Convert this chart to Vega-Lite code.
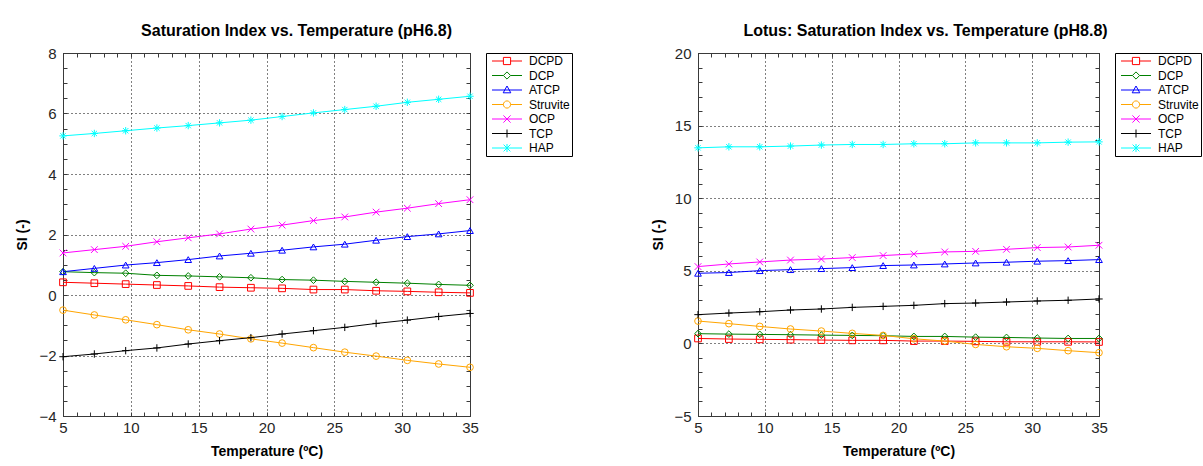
{
"$schema": "https://vega.github.io/schema/vega-lite/v6.json",
"background": "white",
"padding": {"left": 15, "top": 22, "right": 0, "bottom": 0},
"bounds": "flush",
"spacing": 228,
"datasets": {
"a": [
{"s":"DCPD","T":5,"SI":0.42},{"s":"DCPD","T":7.31,"SI":0.39},{"s":"DCPD","T":9.62,"SI":0.36},{"s":"DCPD","T":11.92,"SI":0.33},{"s":"DCPD","T":14.23,"SI":0.30},{"s":"DCPD","T":16.54,"SI":0.26},{"s":"DCPD","T":18.85,"SI":0.24},{"s":"DCPD","T":21.15,"SI":0.22},{"s":"DCPD","T":23.46,"SI":0.18},{"s":"DCPD","T":25.77,"SI":0.18},{"s":"DCPD","T":28.08,"SI":0.14},{"s":"DCPD","T":30.38,"SI":0.12},{"s":"DCPD","T":32.69,"SI":0.09},{"s":"DCPD","T":35,"SI":0.07},
{"s":"DCP","T":5,"SI":0.77},{"s":"DCP","T":7.31,"SI":0.74},{"s":"DCP","T":9.62,"SI":0.72},{"s":"DCP","T":11.92,"SI":0.65},{"s":"DCP","T":14.23,"SI":0.63},{"s":"DCP","T":16.54,"SI":0.60},{"s":"DCP","T":18.85,"SI":0.57},{"s":"DCP","T":21.15,"SI":0.51},{"s":"DCP","T":23.46,"SI":0.49},{"s":"DCP","T":25.77,"SI":0.45},{"s":"DCP","T":28.08,"SI":0.42},{"s":"DCP","T":30.38,"SI":0.39},{"s":"DCP","T":32.69,"SI":0.35},{"s":"DCP","T":35,"SI":0.32},
{"s":"ATCP","T":5,"SI":0.77},{"s":"ATCP","T":7.31,"SI":0.88},{"s":"ATCP","T":9.62,"SI":0.99},{"s":"ATCP","T":11.92,"SI":1.07},{"s":"ATCP","T":14.23,"SI":1.17},{"s":"ATCP","T":16.54,"SI":1.29},{"s":"ATCP","T":18.85,"SI":1.38},{"s":"ATCP","T":21.15,"SI":1.48},{"s":"ATCP","T":23.46,"SI":1.59},{"s":"ATCP","T":25.77,"SI":1.68},{"s":"ATCP","T":28.08,"SI":1.81},{"s":"ATCP","T":30.38,"SI":1.93},{"s":"ATCP","T":32.69,"SI":2.02},{"s":"ATCP","T":35,"SI":2.13},
{"s":"Struvite","T":5,"SI":-0.50},{"s":"Struvite","T":7.31,"SI":-0.66},{"s":"Struvite","T":9.62,"SI":-0.82},{"s":"Struvite","T":11.92,"SI":-0.98},{"s":"Struvite","T":14.23,"SI":-1.15},{"s":"Struvite","T":16.54,"SI":-1.29},{"s":"Struvite","T":18.85,"SI":-1.45},{"s":"Struvite","T":21.15,"SI":-1.59},{"s":"Struvite","T":23.46,"SI":-1.74},{"s":"Struvite","T":25.77,"SI":-1.89},{"s":"Struvite","T":28.08,"SI":-2.02},{"s":"Struvite","T":30.38,"SI":-2.16},{"s":"Struvite","T":32.69,"SI":-2.28},{"s":"Struvite","T":35,"SI":-2.39},
{"s":"OCP","T":5,"SI":1.39},{"s":"OCP","T":7.31,"SI":1.50},{"s":"OCP","T":9.62,"SI":1.61},{"s":"OCP","T":11.92,"SI":1.76},{"s":"OCP","T":14.23,"SI":1.89},{"s":"OCP","T":16.54,"SI":2.02},{"s":"OCP","T":18.85,"SI":2.18},{"s":"OCP","T":21.15,"SI":2.31},{"s":"OCP","T":23.46,"SI":2.46},{"s":"OCP","T":25.77,"SI":2.58},{"s":"OCP","T":28.08,"SI":2.74},{"s":"OCP","T":30.38,"SI":2.87},{"s":"OCP","T":32.69,"SI":3.02},{"s":"OCP","T":35,"SI":3.15},
{"s":"TCP","T":5,"SI":-2.04},{"s":"TCP","T":7.31,"SI":-1.95},{"s":"TCP","T":9.62,"SI":-1.84},{"s":"TCP","T":11.92,"SI":-1.75},{"s":"TCP","T":14.23,"SI":-1.62},{"s":"TCP","T":16.54,"SI":-1.51},{"s":"TCP","T":18.85,"SI":-1.41},{"s":"TCP","T":21.15,"SI":-1.29},{"s":"TCP","T":23.46,"SI":-1.18},{"s":"TCP","T":25.77,"SI":-1.07},{"s":"TCP","T":28.08,"SI":-0.94},{"s":"TCP","T":30.38,"SI":-0.83},{"s":"TCP","T":32.69,"SI":-0.71},{"s":"TCP","T":35,"SI":-0.61},
{"s":"HAP","T":5,"SI":5.26},{"s":"HAP","T":7.31,"SI":5.34},{"s":"HAP","T":9.62,"SI":5.43},{"s":"HAP","T":11.92,"SI":5.52},{"s":"HAP","T":14.23,"SI":5.60},{"s":"HAP","T":16.54,"SI":5.69},{"s":"HAP","T":18.85,"SI":5.78},{"s":"HAP","T":21.15,"SI":5.90},{"s":"HAP","T":23.46,"SI":6.02},{"s":"HAP","T":25.77,"SI":6.13},{"s":"HAP","T":28.08,"SI":6.24},{"s":"HAP","T":30.38,"SI":6.37},{"s":"HAP","T":32.69,"SI":6.47},{"s":"HAP","T":35,"SI":6.57}
],
"b": [
{"s":"DCPD","T":5,"SI":0.34},{"s":"DCPD","T":7.31,"SI":0.30},{"s":"DCPD","T":9.62,"SI":0.28},{"s":"DCPD","T":11.92,"SI":0.26},{"s":"DCPD","T":14.23,"SI":0.23},{"s":"DCPD","T":16.54,"SI":0.21},{"s":"DCPD","T":18.85,"SI":0.21},{"s":"DCPD","T":21.15,"SI":0.16},{"s":"DCPD","T":23.46,"SI":0.16},{"s":"DCPD","T":25.77,"SI":0.14},{"s":"DCPD","T":28.08,"SI":0.11},{"s":"DCPD","T":30.38,"SI":0.11},{"s":"DCPD","T":32.69,"SI":0.11},{"s":"DCPD","T":35,"SI":0.10},
{"s":"DCP","T":5,"SI":0.67},{"s":"DCP","T":7.31,"SI":0.64},{"s":"DCP","T":9.62,"SI":0.62},{"s":"DCP","T":11.92,"SI":0.60},{"s":"DCP","T":14.23,"SI":0.57},{"s":"DCP","T":16.54,"SI":0.55},{"s":"DCP","T":18.85,"SI":0.53},{"s":"DCP","T":21.15,"SI":0.48},{"s":"DCP","T":23.46,"SI":0.48},{"s":"DCP","T":25.77,"SI":0.43},{"s":"DCP","T":28.08,"SI":0.41},{"s":"DCP","T":30.38,"SI":0.37},{"s":"DCP","T":32.69,"SI":0.34},{"s":"DCP","T":35,"SI":0.34},
{"s":"ATCP","T":5,"SI":4.83},{"s":"ATCP","T":7.31,"SI":4.88},{"s":"ATCP","T":9.62,"SI":5.01},{"s":"ATCP","T":11.92,"SI":5.08},{"s":"ATCP","T":14.23,"SI":5.15},{"s":"ATCP","T":16.54,"SI":5.22},{"s":"ATCP","T":18.85,"SI":5.36},{"s":"ATCP","T":21.15,"SI":5.40},{"s":"ATCP","T":23.46,"SI":5.47},{"s":"ATCP","T":25.77,"SI":5.54},{"s":"ATCP","T":28.08,"SI":5.59},{"s":"ATCP","T":30.38,"SI":5.66},{"s":"ATCP","T":32.69,"SI":5.70},{"s":"ATCP","T":35,"SI":5.77},
{"s":"Struvite","T":5,"SI":1.54},{"s":"Struvite","T":7.31,"SI":1.36},{"s":"Struvite","T":9.62,"SI":1.17},{"s":"Struvite","T":11.92,"SI":0.99},{"s":"Struvite","T":14.23,"SI":0.85},{"s":"Struvite","T":16.54,"SI":0.69},{"s":"Struvite","T":18.85,"SI":0.55},{"s":"Struvite","T":21.15,"SI":0.32},{"s":"Struvite","T":23.46,"SI":0.16},{"s":"Struvite","T":25.77,"SI":-0.07},{"s":"Struvite","T":28.08,"SI":-0.23},{"s":"Struvite","T":30.38,"SI":-0.34},{"s":"Struvite","T":32.69,"SI":-0.50},{"s":"Struvite","T":35,"SI":-0.64},
{"s":"OCP","T":5,"SI":5.29},{"s":"OCP","T":7.31,"SI":5.47},{"s":"OCP","T":9.62,"SI":5.61},{"s":"OCP","T":11.92,"SI":5.74},{"s":"OCP","T":14.23,"SI":5.81},{"s":"OCP","T":16.54,"SI":5.91},{"s":"OCP","T":18.85,"SI":6.05},{"s":"OCP","T":21.15,"SI":6.16},{"s":"OCP","T":23.46,"SI":6.30},{"s":"OCP","T":25.77,"SI":6.34},{"s":"OCP","T":28.08,"SI":6.48},{"s":"OCP","T":30.38,"SI":6.60},{"s":"OCP","T":32.69,"SI":6.64},{"s":"OCP","T":35,"SI":6.76},
{"s":"TCP","T":5,"SI":1.98},{"s":"TCP","T":7.31,"SI":2.09},{"s":"TCP","T":9.62,"SI":2.18},{"s":"TCP","T":11.92,"SI":2.30},{"s":"TCP","T":14.23,"SI":2.37},{"s":"TCP","T":16.54,"SI":2.48},{"s":"TCP","T":18.85,"SI":2.55},{"s":"TCP","T":21.15,"SI":2.62},{"s":"TCP","T":23.46,"SI":2.74},{"s":"TCP","T":25.77,"SI":2.78},{"s":"TCP","T":28.08,"SI":2.85},{"s":"TCP","T":30.38,"SI":2.92},{"s":"TCP","T":32.69,"SI":2.97},{"s":"TCP","T":35,"SI":3.06},
{"s":"HAP","T":5,"SI":13.47},{"s":"HAP","T":7.31,"SI":13.54},{"s":"HAP","T":9.62,"SI":13.54},{"s":"HAP","T":11.92,"SI":13.59},{"s":"HAP","T":14.23,"SI":13.66},{"s":"HAP","T":16.54,"SI":13.70},{"s":"HAP","T":18.85,"SI":13.70},{"s":"HAP","T":21.15,"SI":13.75},{"s":"HAP","T":23.46,"SI":13.75},{"s":"HAP","T":25.77,"SI":13.81},{"s":"HAP","T":28.08,"SI":13.81},{"s":"HAP","T":30.38,"SI":13.81},{"s":"HAP","T":32.69,"SI":13.86},{"s":"HAP","T":35,"SI":13.88}
]
},
"config": {
"font": "Liberation Sans",
"view": {"stroke": "#3a3a3a", "strokeWidth": 1},
"title": {"font": "Liberation Sans", "fontSize": 16, "fontWeight": "bold", "color": "black", "offset": 7},
"axis": {"labelFont": "Liberation Sans", "labelFontSize": 15, "labelColor": "#262626", "titleFont": "Liberation Sans", "titleFontSize": 14, "titleFontWeight": "bold", "titleColor": "black", "domainColor": "#3a3a3a", "tickColor": "#3a3a3a", "tickSize": -4, "gridColor": "black", "gridDash": [1, 3], "gridWidth": 1, "labelFlush": false, "labelOverlap": false, "labelBound": false},
"legend": {"orient": "right", "offset": 14, "strokeColor": "black", "padding": 2, "symbolSize": 64, "symbolStrokeWidth": 1, "symbolOffset": 13, "labelOffset": 16, "labelFont": "Liberation Sans", "labelFontSize": 12, "labelColor": "black", "rowPadding": 2.5, "symbolFillColor": "transparent", "symbolOpacity": 1}
},
"resolve": {"scale": {"x": "independent", "y": "independent", "color": "independent", "shape": "independent", "stroke": "independent"}, "legend": {"color": "independent", "shape": "independent", "stroke": "independent"}},
"hconcat": [
{
"width": 407, "height": 363,
"title": {"text": "Saturation Index vs. Temperature (pH6.8)", "dx": 30},
"data": {"name": "a"},
"resolve": {"axis": {"x": "independent", "y": "independent"}, "scale": {"shape": "independent", "stroke": "independent"}},
"layer": [
{"mark": {"type": "line", "strokeWidth": 1},
"encoding": {
"x": {"field": "T", "type": "quantitative", "scale": {"domain": [5, 35], "nice": false, "zero": false},
"axis": {"orient": "bottom", "title": "Temperature (ºC)", "values": [5,6,7,8,9,10,11,12,13,14,15,16,17,18,19,20,21,22,23,24,25,26,27,28,29,30,31,32,33,34,35], "labelExpr": "datum.value % 5 === 0 ? datum.label : ''", "gridOpacity": {"condition": {"test": "datum.value % 5 === 0", "value": 1}, "value": 0}, "labelPadding": 8.5, "titlePadding": 8.5}},
"y": {"field": "SI", "type": "quantitative", "scale": {"domain": [-4, 8], "nice": false, "zero": false},
"axis": {"orient": "left", "title": "SI (-)", "values": [-4,-3.5,-3,-2.5,-2,-1.5,-1,-0.5,0,0.5,1,1.5,2,2.5,3,3.5,4,4.5,5,5.5,6,6.5,7,7.5,8], "labelExpr": "datum.value % 2 === 0 ? format(datum.value, 'd') : ''", "gridOpacity": {"condition": {"test": "datum.value % 2 === 0", "value": 1}, "value": 0}, "labelPadding": 11, "titlePadding": 9}},
"color": {"field": "s", "type": "nominal", "scale": {"domain": ["DCPD","DCP","ATCP","Struvite","OCP","TCP","HAP"], "range": ["#ff0000","#008000","#0000ff","#ffa500","#ff00ff","#000000","#00ffff"]}, "legend": null}
}},
{"mark": {"type": "point", "filled": false, "strokeWidth": 1, "size": 45, "opacity": 1},
"encoding": {
"x": {"field": "T", "type": "quantitative", "scale": {"domain": [5, 35], "nice": false, "zero": false},
"axis": {"orient": "top", "title": null, "labels": false, "grid": false, "values": [5,6,7,8,9,10,11,12,13,14,15,16,17,18,19,20,21,22,23,24,25,26,27,28,29,30,31,32,33,34,35]}},
"y": {"field": "SI", "type": "quantitative", "scale": {"domain": [-4, 8], "nice": false, "zero": false},
"axis": {"orient": "right", "title": null, "labels": false, "grid": false, "values": [-4,-3.5,-3,-2.5,-2,-1.5,-1,-0.5,0,0.5,1,1.5,2,2.5,3,3.5,4,4.5,5,5.5,6,6.5,7,7.5,8]}},
"color": {"field": "s", "type": "nominal", "scale": {"domain": ["DCPD","DCP","ATCP","Struvite","OCP","TCP","HAP"], "range": ["#ff0000","#008000","#0000ff","#ffa500","#ff00ff","#000000","#00ffff"]}, "legend": null},
"shape": {"field": "s", "type": "nominal", "scale": {"domain": ["DCPD","DCP","ATCP","Struvite","OCP","TCP","HAP"], "range": ["square","diamond","triangle-up","circle","M-1,-1L1,1M-1,1L1,-1","M-1.1,0L1.1,0M0,-1.1L0,1.1","M-1.1,0L1.1,0M0,-1.1L0,1.1M-0.8,-0.8L0.8,0.8M-0.8,0.8L0.8,-0.8"]}, "legend": null}
}},
{"transform": [{"filter": "datum.T < 0"}],
"mark": {"type": "point", "filled": false, "strokeWidth": 1},
"encoding": {
"x": {"field": "T", "type": "quantitative", "axis": null},
"y": {"field": "SI", "type": "quantitative", "axis": null},
"stroke": {"field": "s", "type": "nominal", "scale": {"domain": ["DCPD","DCP","ATCP","Struvite","OCP","TCP","HAP"], "range": ["#ff0000","#008000","#0000ff","#ffa500","#ff00ff","#000000","#00ffff"]}, "legend": {"title": null}},
"shape": {"field": "s", "type": "nominal", "scale": {"domain": ["DCPD","DCP","ATCP","Struvite","OCP","TCP","HAP"], "range": ["M-3.75,0H-0.9M0.9,0H3.75M-0.9,-0.9H0.9V0.9H-0.9Z","M-3.75,0H-0.9M0.9,0H3.75M-0.9,0L0,-0.9L0.9,0L0,0.9Z","M-3.75,0H3.75M0,-1L0.95,0.7L-0.95,0.7Z","M-3.75,0H-0.9M0.9,0H3.75M-0.9,0A0.9,0.9 0 1,0 0.9,0A0.9,0.9 0 1,0 -0.9,0","M-3.75,0H3.75M-0.9,-0.9L0.9,0.9M-0.9,0.9L0.9,-0.9","M-3.75,0H3.75M0,-1L0,1","M-3.75,0H3.75M0,-1L0,1M-0.85,-0.85L0.85,0.85M-0.85,0.85L0.85,-0.85"]}, "legend": {"title": null}}
}}
]
},
{
"width": 401, "height": 363,
"title": {"text": "Lotus: Saturation Index vs. Temperature (pH8.8)", "dx": 27},
"data": {"name": "b"},
"resolve": {"axis": {"x": "independent", "y": "independent"}, "scale": {"shape": "independent", "stroke": "independent"}},
"layer": [
{"mark": {"type": "line", "strokeWidth": 1},
"encoding": {
"x": {"field": "T", "type": "quantitative", "scale": {"domain": [5, 35], "nice": false, "zero": false},
"axis": {"orient": "bottom", "title": "Temperature (ºC)", "values": [5,6,7,8,9,10,11,12,13,14,15,16,17,18,19,20,21,22,23,24,25,26,27,28,29,30,31,32,33,34,35], "labelExpr": "datum.value % 5 === 0 ? datum.label : ''", "gridOpacity": {"condition": {"test": "datum.value % 5 === 0", "value": 1}, "value": 0}, "labelPadding": 8.5, "titlePadding": 8.5}},
"y": {"field": "SI", "type": "quantitative", "scale": {"domain": [-5, 20], "nice": false, "zero": false},
"axis": {"orient": "left", "title": "SI (-)", "values": [-5,-4,-3,-2,-1,0,1,2,3,4,5,6,7,8,9,10,11,12,13,14,15,16,17,18,19,20], "labelExpr": "datum.value % 5 === 0 ? datum.label : ''", "gridOpacity": {"condition": {"test": "datum.value % 5 === 0", "value": 1}, "value": 0}, "labelPadding": 11, "titlePadding": 8}},
"color": {"field": "s", "type": "nominal", "scale": {"domain": ["DCPD","DCP","ATCP","Struvite","OCP","TCP","HAP"], "range": ["#ff0000","#008000","#0000ff","#ffa500","#ff00ff","#000000","#00ffff"]}, "legend": null}
}},
{"mark": {"type": "point", "filled": false, "strokeWidth": 1, "size": 45, "opacity": 1},
"encoding": {
"x": {"field": "T", "type": "quantitative", "scale": {"domain": [5, 35], "nice": false, "zero": false},
"axis": {"orient": "top", "title": null, "labels": false, "grid": false, "values": [5,6,7,8,9,10,11,12,13,14,15,16,17,18,19,20,21,22,23,24,25,26,27,28,29,30,31,32,33,34,35]}},
"y": {"field": "SI", "type": "quantitative", "scale": {"domain": [-5, 20], "nice": false, "zero": false},
"axis": {"orient": "right", "title": null, "labels": false, "grid": false, "values": [-5,-4,-3,-2,-1,0,1,2,3,4,5,6,7,8,9,10,11,12,13,14,15,16,17,18,19,20]}},
"color": {"field": "s", "type": "nominal", "scale": {"domain": ["DCPD","DCP","ATCP","Struvite","OCP","TCP","HAP"], "range": ["#ff0000","#008000","#0000ff","#ffa500","#ff00ff","#000000","#00ffff"]}, "legend": null},
"shape": {"field": "s", "type": "nominal", "scale": {"domain": ["DCPD","DCP","ATCP","Struvite","OCP","TCP","HAP"], "range": ["square","diamond","triangle-up","circle","M-1,-1L1,1M-1,1L1,-1","M-1.1,0L1.1,0M0,-1.1L0,1.1","M-1.1,0L1.1,0M0,-1.1L0,1.1M-0.8,-0.8L0.8,0.8M-0.8,0.8L0.8,-0.8"]}, "legend": null}
}},
{"transform": [{"filter": "datum.T < 0"}],
"mark": {"type": "point", "filled": false, "strokeWidth": 1},
"encoding": {
"x": {"field": "T", "type": "quantitative", "axis": null},
"y": {"field": "SI", "type": "quantitative", "axis": null},
"stroke": {"field": "s", "type": "nominal", "scale": {"domain": ["DCPD","DCP","ATCP","Struvite","OCP","TCP","HAP"], "range": ["#ff0000","#008000","#0000ff","#ffa500","#ff00ff","#000000","#00ffff"]}, "legend": {"title": null}},
"shape": {"field": "s", "type": "nominal", "scale": {"domain": ["DCPD","DCP","ATCP","Struvite","OCP","TCP","HAP"], "range": ["M-3.75,0H-0.9M0.9,0H3.75M-0.9,-0.9H0.9V0.9H-0.9Z","M-3.75,0H-0.9M0.9,0H3.75M-0.9,0L0,-0.9L0.9,0L0,0.9Z","M-3.75,0H3.75M0,-1L0.95,0.7L-0.95,0.7Z","M-3.75,0H-0.9M0.9,0H3.75M-0.9,0A0.9,0.9 0 1,0 0.9,0A0.9,0.9 0 1,0 -0.9,0","M-3.75,0H3.75M-0.9,-0.9L0.9,0.9M-0.9,0.9L0.9,-0.9","M-3.75,0H3.75M0,-1L0,1","M-3.75,0H3.75M0,-1L0,1M-0.85,-0.85L0.85,0.85M-0.85,0.85L0.85,-0.85"]}, "legend": {"title": null}}
}}
]
}
]
}
